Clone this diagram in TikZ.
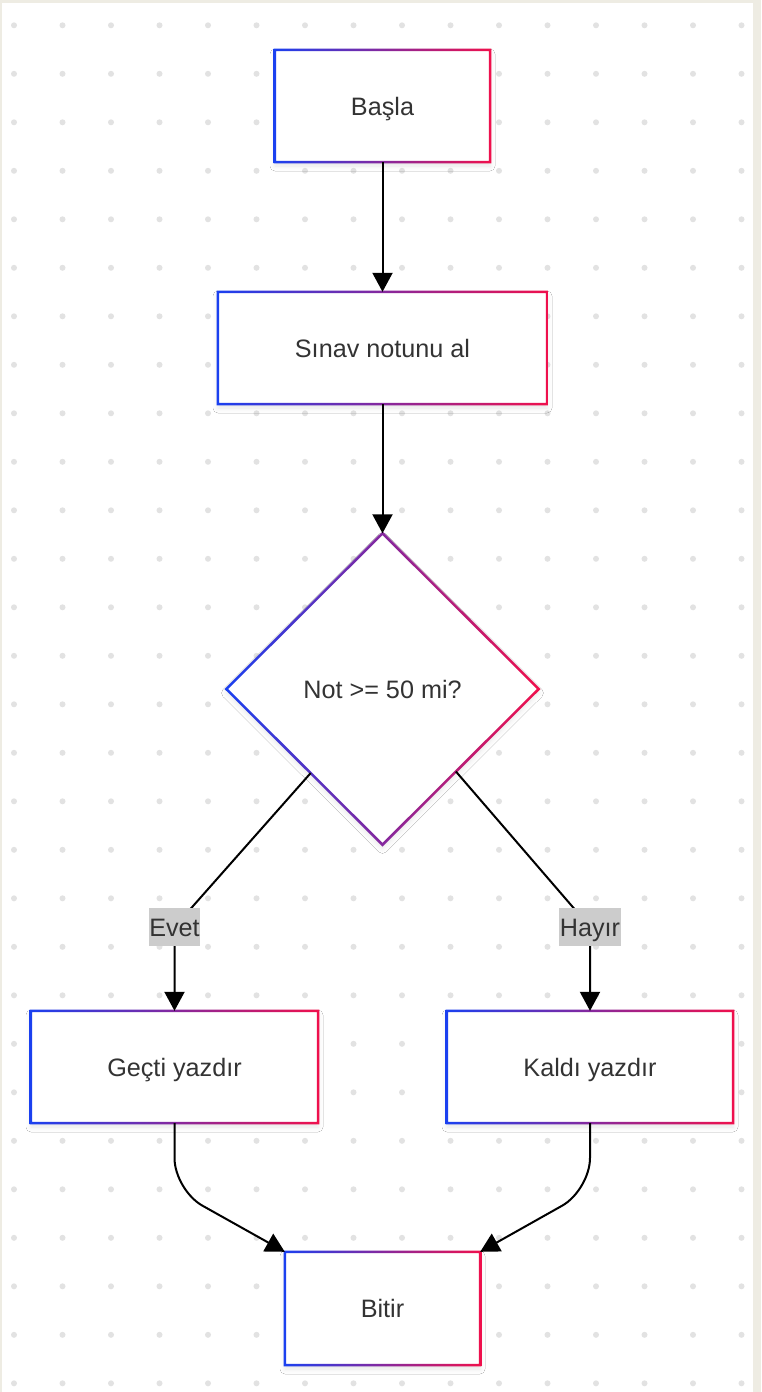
\documentclass[tikz,border=0pt]{standalone}
\usepackage{fontspec}
\setmainfont{Liberation Sans}
\usetikzlibrary{arrows.meta,shapes.geometric,shadows.blur,calc}
\definecolor{cblue}{HTML}{1A40F0}
\definecolor{cred}{HTML}{F0104C}
\definecolor{bgbeige}{HTML}{EEECE3}
\definecolor{dotc}{HTML}{E2E2E2}
\definecolor{txt}{HTML}{333333}
\definecolor{lblbg}{HTML}{CCCCCC}
\newcommand\myfont{\fontsize{25.2}{30}\selectfont}
\newcommand\gring[1]{%
  \shade[left color=cblue, right color=cred, even odd rule]
    ([shift={(-1.25pt,1.25pt)}]#1.north west) rectangle ([shift={(1.25pt,-1.25pt)}]#1.south east)
    ([shift={(1.25pt,-1.25pt)}]#1.north west) rectangle ([shift={(-1.25pt,1.25pt)}]#1.south east);}
\newcommand\dring[1]{%
  \shade[left color=cblue, right color=cred, even odd rule]
    ([yshift=1.8pt]#1.north) -- ([xshift=1.8pt]#1.east) -- ([yshift=-1.8pt]#1.south) -- ([xshift=-1.8pt]#1.west) -- cycle
    ([yshift=-1.8pt]#1.north) -- ([xshift=-1.8pt]#1.east) -- ([yshift=1.8pt]#1.south) -- ([xshift=1.8pt]#1.west) -- cycle;}
\tikzset{
  shad/.style={blur shadow={shadow xshift=0pt, shadow yshift=-4pt, shadow blur radius=5pt, shadow opacity=10}},
  box/.style={rectangle, fill=white, inner sep=0pt, text=txt, font=\myfont, text height=18pt, text depth=0pt, shad},
  dia/.style={diamond, shape aspect=1, fill=white, inner sep=0pt, text=txt, font=\myfont, text height=18pt, text depth=0pt, shad},
  lbl/.style={fill=lblbg, text=txt, font=\myfont, inner xsep=0.5pt, inner ysep=0pt, minimum height=38pt, text height=18pt, text depth=0pt},
  conn/.style={draw=black, line width=2pt, -{Triangle[length=19pt,width=20pt]}},
}
\begin{document}
\begin{tikzpicture}[x=1pt,y=-1pt]
\useasboundingbox (0,0) rectangle (761,1392);
\fill[bgbeige] (0,0) rectangle (761,1392);
\fill[white] (2,3) rectangle (753,1392);
\foreach \i in {0,...,15} \foreach \j in {0,...,28}
  \fill[dotc] ({14+48.5*\i},{25.3+48.5*\j}) circle (3pt);

\node[box, minimum width=215pt, minimum height=112pt] (basla) at (382.5,106) {Başla};
\node[box, minimum width=329pt, minimum height=112pt] (sinav) at (382.5,348) {Sınav notunu al};
\node[dia, minimum width=312pt, minimum height=311pt] (dec) at (382.5,689) {Not >= 50 mi?};
\node[box, minimum width=287pt, minimum height=112pt] (gecti) at (174.5,1067) {Geçti yazdır};
\node[box, minimum width=286pt, minimum height=112pt] (kaldi) at (590,1067) {Kaldı yazdır};
\node[box, minimum width=195pt, minimum height=113pt] (bitir) at (382.5,1308.5) {Bitir};
\gring{basla}
\gring{sinav}
\dring{dec}
\gring{gecti}
\gring{kaldi}
\gring{bitir}

\coordinate (evc) at (174.5,927);
\coordinate (hyc) at (590,927);
\coordinate (gb) at (174.5,1190);
\coordinate (kb) at (590,1190);

\draw[conn] (basla.south) -- (sinav.north);
\draw[conn] (sinav.south) -- (dec.north);
\draw[conn] ($(dec.west)!0.54!(dec.south)$) -- (evc) -- (gecti.north);
\draw[conn] ($(dec.east)!0.53!(dec.south)$) -- (hyc) -- (kaldi.north);
\draw[conn, rounded corners=32pt] (gecti.south) -- (gb) -- (bitir.north west);
\draw[conn, rounded corners=32pt] (kaldi.south) -- (kb) -- (bitir.north east);

\node[lbl] (evet) at (evc) {Evet};
\node[lbl] (hayir) at (hyc) {Hayır};
\end{tikzpicture}
\end{document}
